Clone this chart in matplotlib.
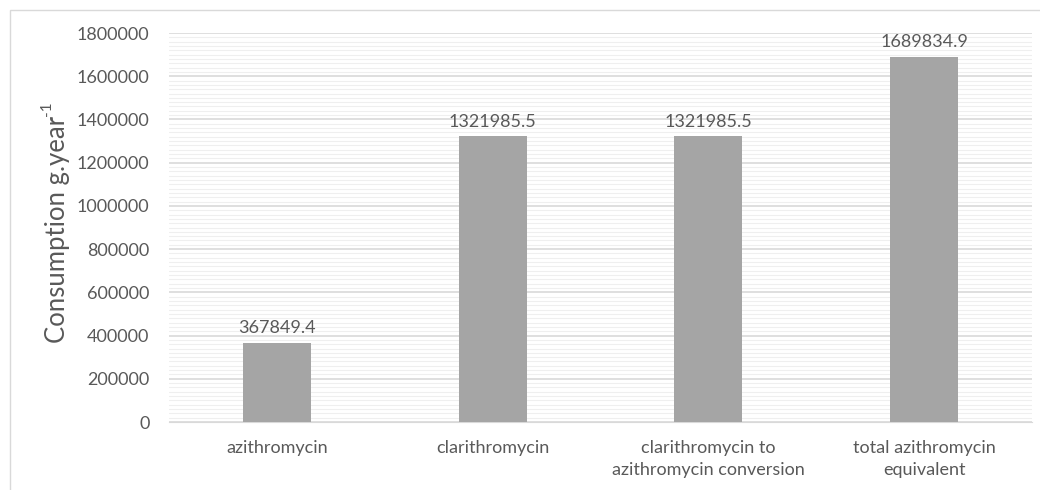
import numpy as np
import matplotlib.pyplot as plt
from matplotlib.ticker import MultipleLocator, StrMethodFormatter
from matplotlib.patches import Rectangle

categories = ["azithromycin", "clarithromycin",
              "clarithromycin to\nazithromycin conversion",
              "total azithromycin\nequivalent"]
values = [367849.4, 1321985.5, 1321985.5, 1689834.9]
value_labels = ["367849.4", "1321985.5", "1321985.5", "1689834.9"]

plt.rcParams['font.family'] = ['Lato', 'DejaVu Sans']
txt = '#595959'

fig = plt.figure(figsize=(10.4, 4.9), dpi=100)
ax = fig.add_axes([169/1040, 1-422/490, (1032-169)/1040, (422-33)/490])

# outer chart frame
fig.patches.append(Rectangle((10/1040, -0.1), 1.2, 1 - 10/490 + 0.1,
                             transform=fig.transFigure, fill=False,
                             edgecolor='#d9d9d9', linewidth=1))

x = np.arange(len(categories))
ax.bar(x, values, width=0.315, color='#a5a5a5', zorder=3)
for xi, v, lab in zip(x, values, value_labels):
    ax.text(xi, v + 30000, lab, ha='center', va='bottom', fontsize=13, color=txt)

ax.set_xlim(-0.5, len(categories) - 0.5)
ax.set_ylim(0, 1800000)
ax.yaxis.set_major_locator(MultipleLocator(200000))
ax.yaxis.set_minor_locator(MultipleLocator(20000))
ax.yaxis.set_major_formatter(StrMethodFormatter('{x:.0f}'))
ax.grid(which='major', axis='y', color='#d9d9d9', linewidth=1.2, zorder=0)
ax.grid(which='minor', axis='y', color='#efefef', linewidth=0.8, zorder=0)
ax.set_xticks(x)
ax.set_xticklabels(categories, fontsize=13, color=txt, linespacing=1.45)
ax.tick_params(axis='y', which='both', length=0, labelsize=13, labelcolor=txt, pad=14)
ax.tick_params(axis='x', length=0, pad=13)
for s in ['top', 'right', 'left']:
    ax.spines[s].set_visible(False)
ax.spines['bottom'].set_color('#d9d9d9')

# y label with a plain hyphen in the exponent
fig.text(57/1040, 1 - 229/490, "Consumption g.year", rotation=90, fontsize=18.5,
         color=txt, ha='center', va='center')
fig.text(47/1040, 1 - 116/490, "-1", rotation=90, fontsize=11,
         color=txt, ha='center', va='bottom')

fig.savefig('out.png', dpi=100)
